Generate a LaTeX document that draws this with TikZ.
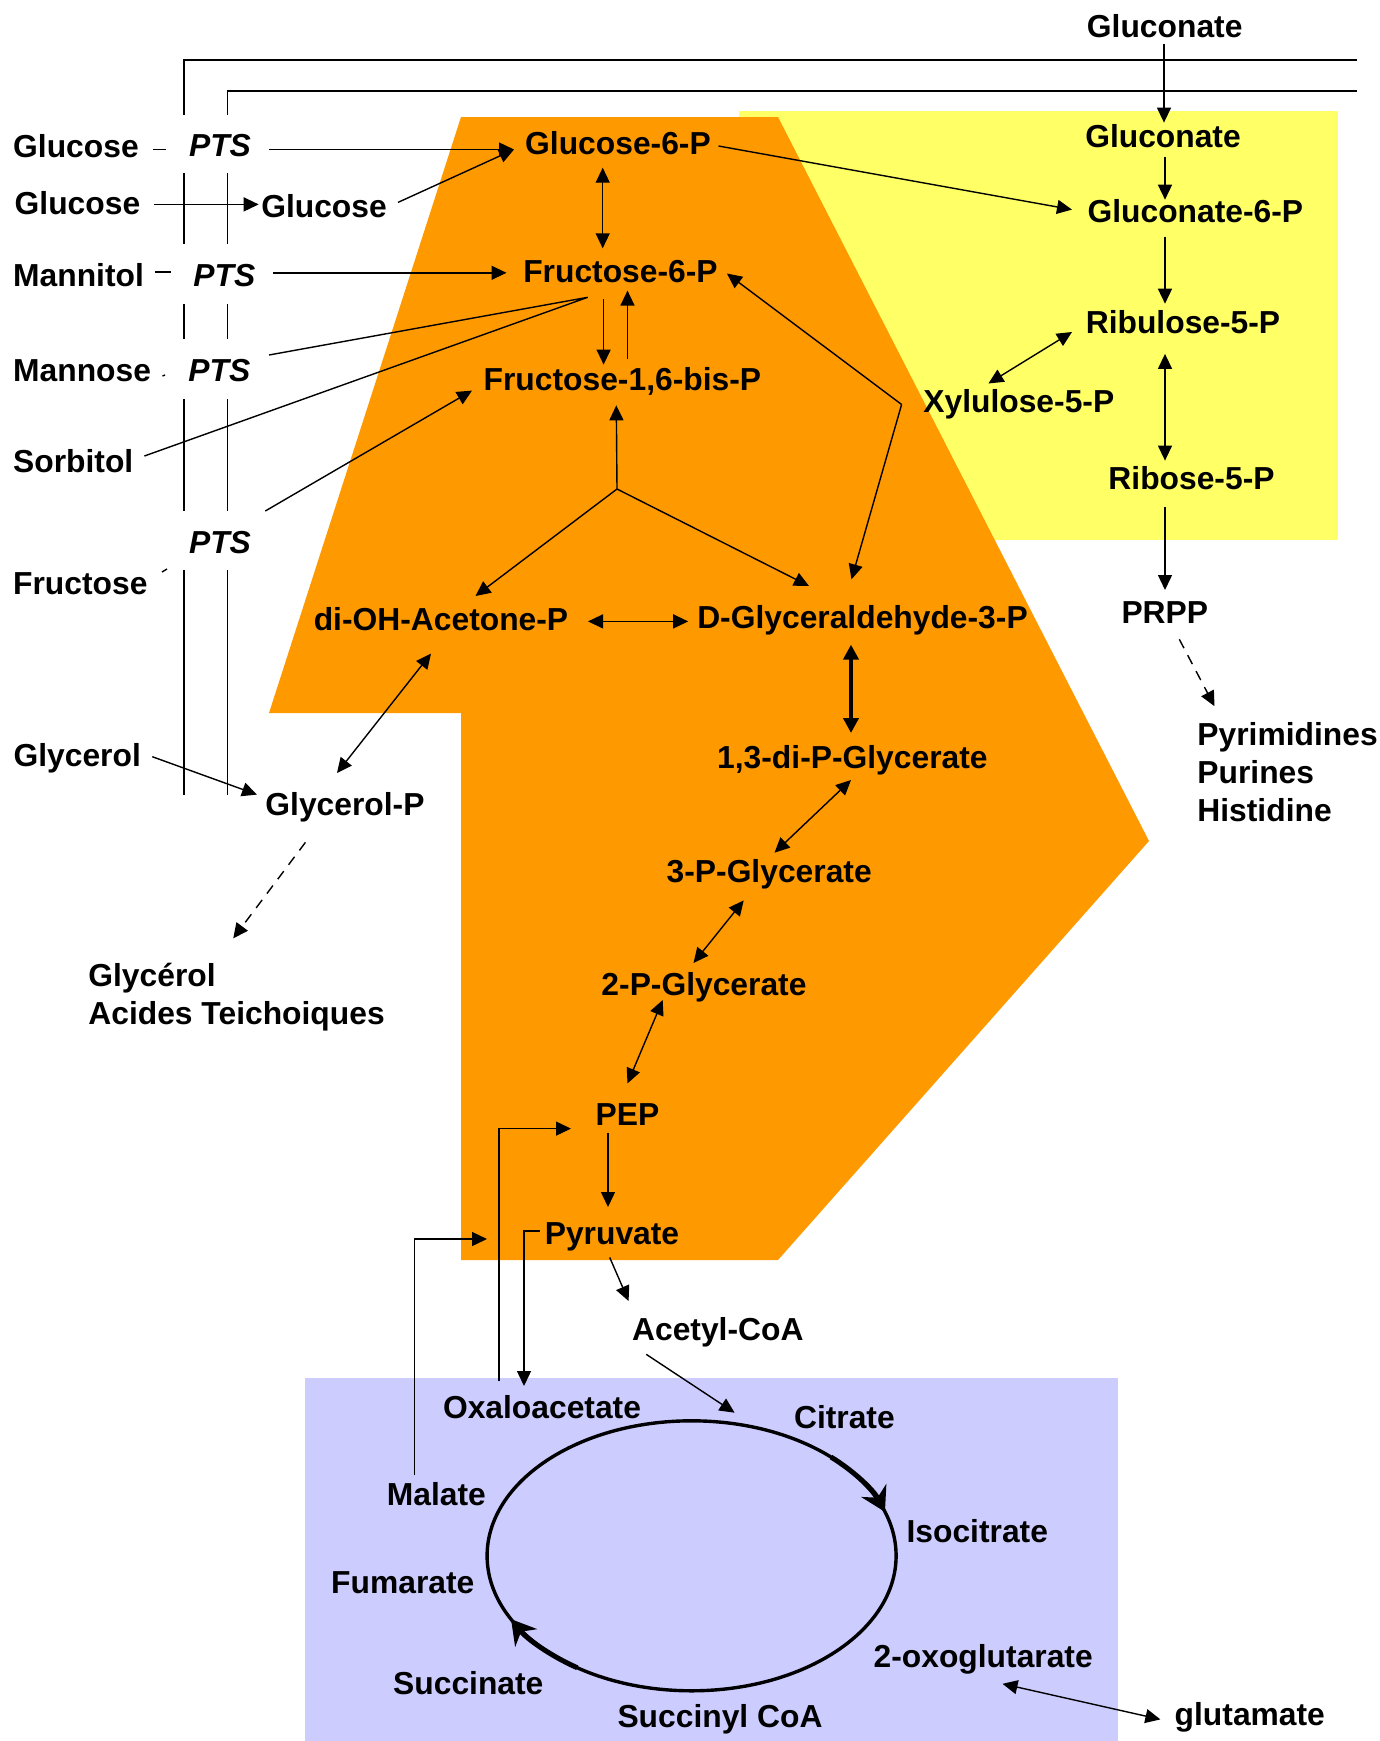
\documentclass[tikz,border=0pt]{standalone}
\usepackage{fontspec}
\setmainfont{Liberation Sans}
\usetikzlibrary{arrows.meta,calc}
\definecolor{orangeA}{RGB}{255,153,0}
\definecolor{yellowA}{RGB}{255,255,102}
\definecolor{lavA}{RGB}{204,204,255}
\newcommand\lblfont{\fontsize{15.9pt}{19pt}\selectfont\bfseries}
\begin{document}
\begin{tikzpicture}[x=0.5pt,y=-0.5pt,
  lbl/.style={font=\lblfont, inner sep=0pt, text height=11.4pt, text depth=0pt},
  ptsl/.style={lbl, font=\lblfont\itshape},
  arr/.style={line width=0.7pt, -{Triangle[length=7.5pt,width=7pt]}},
  darr/.style={line width=0.7pt, {Triangle[length=7.5pt,width=7pt]}-{Triangle[length=7.5pt,width=7pt]}},
  thickdarr/.style={line width=2pt, {Triangle[length=7.5pt,width=7.5pt]}-{Triangle[length=7.5pt,width=7.5pt]}},
  plain/.style={line width=0.7pt},
  bracket/.style={line width=0.75pt},
  dasharr/.style={line width=0.7pt, dash pattern=on 5pt off 4pt, -{Triangle[length=7.5pt,width=7pt]}},
  cycarr/.style={line width=2.5pt, -{Stealth[length=12pt,width=14pt,inset=4pt]}}
]
\useasboundingbox (0,0) rectangle (1380,1741);
% backgrounds
\fill[yellowA] (739,111) rectangle (1338,540);
\fill[orangeA] (461,117) -- (778,117) -- (1149,841) -- (778,1260) -- (461,1260) -- (461,713) -- (269,713) -- cycle;
\fill[lavA] (305,1378) rectangle (1118,1741);

% membrane brackets
\draw[bracket] (184,115) |- (1357,60);
\draw[bracket] (227.5,115) |- (1357,91);
\foreach \a/\b in {173/244, 304/339, 399/511, 570/795} {
  \draw[bracket] (184,\a) -- (184,\b);
  \draw[bracket] (227.5,\a) -- (227.5,\b);
}

% labels
\node[lbl] (glcnTop) at (1164.7,25.7) {Gluconate};
\node[lbl,anchor=west] (glc1) at (12.8,146) {Glucose};
\node[ptsl] (pts1) at (220,145.5) {PTS};
\node[lbl] (g6p) at (618,143) {Glucose-6-P};
\node[lbl,anchor=west] (glc2L) at (14.3,203) {Glucose};
\node[lbl] (glc2R) at (324,205.6) {Glucose};
\node[lbl,anchor=west] (mtl) at (12.8,274.8) {Mannitol};
\node[ptsl] (pts3) at (224.4,274.8) {PTS};
\node[lbl] (f6p) at (620.5,271) {Fructose-6-P};
\node[lbl,anchor=west] (man) at (12.8,369.7) {Mannose};
\node[ptsl] (pts4) at (219.4,369.7) {PTS};
\node[lbl] (fbp) at (622.4,379) {Fructose-1,6-bis-P};
\node[lbl,anchor=west] (sor) at (12.8,461) {Sorbitol};
\node[ptsl] (pts5) at (220,541.7) {PTS};
\node[lbl,anchor=west] (fru) at (12.8,583) {Fructose};
\node[lbl] (dhap) at (441,619.5) {di-OH-Acetone-P};
\node[lbl] (gap) at (862.5,617.5) {D-Glyceraldehyde-3-P};
\node[lbl] (glcn) at (1163,136.4) {Gluconate};
\node[lbl] (glcn6p) at (1195.4,211.5) {Gluconate-6-P};
\node[lbl] (ru5p) at (1183,322) {Ribulose-5-P};
\node[lbl] (xu5p) at (1018.8,401.3) {Xylulose-5-P};
\node[lbl] (r5p) at (1191.5,478.5) {Ribose-5-P};
\node[lbl] (prpp) at (1164.8,612.5) {PRPP};
\node[lbl,anchor=west] (pyrim) at (1197,734) {Pyrimidines};
\node[lbl,anchor=west] (purin) at (1197,772) {Purines};
\node[lbl,anchor=west] (histi) at (1197,810) {Histidine};
\node[lbl,anchor=west] (glyc) at (13.2,754.7) {Glycerol};
\node[lbl] (glyp) at (345,803.8) {Glycerol-P};
\node[lbl] (dpg) at (852.4,757) {1,3-di-P-Glycerate};
\node[lbl] (pg3) at (769.2,871) {3-P-Glycerate};
\node[lbl] (pg2) at (704,983.7) {2-P-Glycerate};
\node[lbl,anchor=west] (glycfr) at (88,975) {Glycérol};
\node[lbl,anchor=west] (teich) at (88,1013) {Acides Teichoiques};
\node[lbl] (pep) at (627.5,1113.6) {PEP};
\node[lbl] (pyr) at (612,1233) {Pyruvate};
\node[lbl] (acoa) at (717.8,1329) {Acetyl-CoA};
\node[lbl] (oaa) at (542,1407) {Oxaloacetate};
\node[lbl] (cit) at (844.4,1417) {Citrate};
\node[lbl] (mal) at (436.4,1494.5) {Malate};
\node[lbl] (icit) at (977.3,1531.5) {Isocitrate};
\node[lbl] (fum) at (402.8,1582.4) {Fumarate};
\node[lbl] (oxo) at (983.2,1656) {2-oxoglutarate};
\node[lbl] (suc) at (468.3,1683.5) {Succinate};
\node[lbl] (succoa) at (720,1716) {Succinyl CoA};
\node[lbl] (glu) at (1249.8,1714.4) {glutamate};

% small marks beside sugars
\draw[plain] (153,149.5) -- (166,149.5);
\draw[plain] (154.6,272) -- (171,272);
\draw[plain] (162.5,376) -- (165,375);
\draw[plain] (162,572) -- (167,569);

% connector end points
\coordinate (a1s) at (269,149.5);   \coordinate (a1e) at (514,149.5);
\coordinate (a2s) at (154,204.4);   \coordinate (a2e) at (258.7,204.4);
\coordinate (a3s) at (398,202.4);
\coordinate (a4s) at (602.7,167.7); \coordinate (a4e) at (602.7,248.3);
\coordinate (a5s) at (273,272.8);   \coordinate (a5e) at (506.5,272.8);
\coordinate (a6s) at (603.6,299.3); \coordinate (a6e) at (603.6,364.6);
\coordinate (a7s) at (627.5,359);   \coordinate (a7e) at (627.5,290.6);
\coordinate (jf6p) at (587.7,297.3);
\coordinate (a8s) at (269,355);
\coordinate (a9s) at (144.4,456);
\coordinate (a10s) at (265.3,511);  \coordinate (a10e) at (472,390.6);
\coordinate (jtri) at (617,489);
\coordinate (tfbp) at (616.3,405.3);
\coordinate (tdhap) at (475.5,596);
\coordinate (tgap1) at (809,586);
\coordinate (jxu) at (901.6,404.5);
\coordinate (tf6p) at (726.9,273.5);
\coordinate (tgap2) at (851.5,579.3);
\coordinate (a13s) at (718.5,146);  \coordinate (a13e) at (1072,209.6);
\coordinate (a14s) at (1164,43.5);  \coordinate (a14e) at (1164,122.6);
\coordinate (a15s) at (1165,157.4); \coordinate (a15e) at (1165,199.7);
\coordinate (a16s) at (1165,236.5); \coordinate (a16e) at (1165,303.7);
\coordinate (a17s) at (1072,332);   \coordinate (a17e) at (988.4,383.5);
\coordinate (a18s) at (1165,353.9); \coordinate (a18e) at (1165,460.6);
\coordinate (a19s) at (1165,507.3); \coordinate (a19e) at (1165,590);
\coordinate (a20s) at (1179.3,639.3); \coordinate (a20e) at (1214.5,706.2);
\coordinate (a21s) at (588,621.4);  \coordinate (a21e) at (688.2,621.4);
\coordinate (a22s) at (851,644.6);  \coordinate (a22e) at (851,733);
\coordinate (a23s) at (851,780);    \coordinate (a23e) at (774.5,852.7);
\coordinate (a24s) at (743.7,900.4); \coordinate (a24e) at (693.5,963);
\coordinate (a25s) at (662.7,1000); \coordinate (a25e) at (627.5,1083.4);
\coordinate (a26s) at (608,1132.6); \coordinate (a26e) at (608,1207);
\coordinate (a27s) at (431,653.6);  \coordinate (a27e) at (337,773);
\coordinate (a28s) at (152.3,756.7); \coordinate (a28e) at (257,794.6);
\coordinate (a29s) at (305.4,842.4); \coordinate (a29e) at (233.2,938.4);
\coordinate (a30s) at (499,1381.3); \coordinate (a30e) at (571,1128.6);
\coordinate (a31s) at (539.6,1230.8); \coordinate (a31e) at (524,1386);
\coordinate (a32s) at (414.7,1475.3); \coordinate (a32e) at (487,1239);
\coordinate (a33s) at (609.7,1257.4); \coordinate (a33e) at (628.6,1301);
\coordinate (a34s) at (646.2,1354.3); \coordinate (a34e) at (734.6,1412.7);
\coordinate (a35s) at (1002.5,1683.8); \coordinate (a35e) at (1160.4,1719.4);
\coordinate (cyc) at (691.6,1555.8);

% connectors
\draw[arr] (a1s) -- (a1e);
\draw[arr] (a2s) -- (a2e);
\draw[arr] (a3s) -- (a1e);
\draw[darr] (a4s) -- (a4e);
\draw[arr] (a5s) -- (a5e);
\draw[arr] (a6s) -- (a6e);
\draw[arr] (a7s) -- (a7e);
\draw[plain] (a8s) -- (jf6p) -- (a9s);
\draw[arr] (a10s) -- (a10e);
\draw[arr] (jtri) -- (tfbp);
\draw[arr] (jtri) -- (tdhap);
\draw[arr] (jtri) -- (tgap1);
\draw[arr] (jxu) -- (tf6p);
\draw[arr] (jxu) -- (tgap2);
\draw[arr] (a13s) -- (a13e);
\draw[arr] (a14s) -- (a14e);
\draw[arr] (a15s) -- (a15e);
\draw[arr] (a16s) -- (a16e);
\draw[darr] (a17s) -- (a17e);
\draw[darr] (a18s) -- (a18e);
\draw[arr] (a19s) -- (a19e);
\draw[dasharr] (a20s) -- (a20e);
\draw[darr] (a21s) -- (a21e);
\draw[thickdarr] (a22s) -- (a22e);
\draw[darr] (a23s) -- (a23e);
\draw[darr] (a24s) -- (a24e);
\draw[darr] (a25s) -- (a25e);
\draw[arr] (a26s) -- (a26e);
\draw[darr] (a27s) -- (a27e);
\draw[arr] (a28s) -- (a28e);
\draw[dasharr] (a29s) -- (a29e);
\draw[arr] (a30s) |- (a30e);
\draw[arr] (a31s) -| (a31e);
\draw[arr] (a32s) |- (a32e);
\draw[arr] (a33s) -- (a33e);
\draw[arr] (a34s) -- (a34e);
\draw[darr] (a35s) -- (a35e);

% TCA cycle
\draw[line width=1.7pt] (cyc) ellipse [x radius=102.25pt, y radius=67.5pt];
\draw[cycarr] (cyc) ++(47:102.25pt and 67.5pt) arc[start angle=47, end angle=19, x radius=102.25pt, y radius=67.5pt];
\draw[cycarr] (cyc) ++(236:102.25pt and 67.5pt) arc[start angle=236, end angle=208, x radius=102.25pt, y radius=67.5pt];
\end{tikzpicture}
\end{document}
